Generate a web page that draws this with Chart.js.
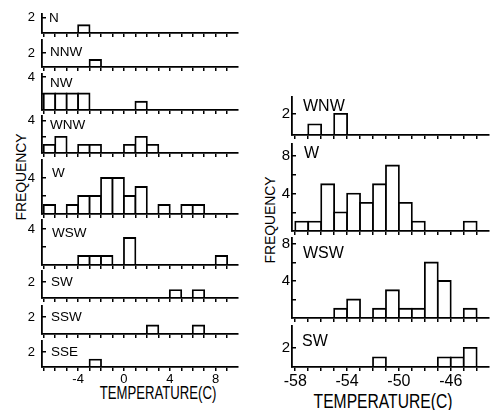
<!DOCTYPE html>
<html><head><meta charset="utf-8">
<script src="https://cdn.jsdelivr.net/npm/chart.js@4.4.1/dist/chart.umd.min.js"></script>
<style>
html,body{margin:0;padding:0;background:#fff;}
body{width:496px;height:410px;position:relative;overflow:hidden;font-family:"Liberation Sans",Arial,Helvetica,sans-serif;color:#000;}
canvas{position:absolute;}
.t{position:absolute;white-space:nowrap;line-height:1;transform-origin:50% 50%;}
</style></head><body>
<div class="t" style="left:158px;top:393px;font-size:18px;transform:translate(-50%,-50%) scaleX(0.73);">TEMPERATURE(C)</div>
<div class="t" style="left:383px;top:400px;font-size:21px;transform:translate(-50%,-50%) scaleX(0.745);">TEMPERATURE(C)</div>
<div class="t" style="left:19.5px;top:176.5px;font-size:15px;transform:translate(-50%,-50%) rotate(-90deg) scaleX(0.925);">FREQUENCY</div>
<div class="t" style="left:269px;top:220px;font-size:15px;transform:translate(-50%,-50%) rotate(-90deg) scaleX(0.925);">FREQUENCY</div>
<script>
// ---------- data ----------
const leftBins = [-7,-6,-5,-4,-3,-2,-1,0,1,2,3,4,5,6,7,8,9];
const leftNames = ['N','NNW','NW','WNW','W','WSW','SW','SSW','SSE'];
const leftN   = [0,0,0,1,0,0,0,0,0,0,0,0,0,0,0,0,0];
const leftNNW = [0,0,0,0,1,0,0,0,0,0,0,0,0,0,0,0,0];
const leftNW  = [2,2,2,2,0,0,0,0,1,0,0,0,0,0,0,0,0];
const leftWNW = [1,2,0,1,1,0,0,1,2,1,0,0,0,0,0,0,0];
const leftW   = [1,0,1,2,2,4,4,2,3,0,1,0,1,1,0,0,0];
const leftWSW = [0,0,0,1,1,1,0,3,0,0,0,0,0,0,0,1,0];
const leftSW  = [0,0,0,0,0,0,0,0,0,0,0,1,0,1,0,0,0];
const leftSSW = [0,0,0,0,0,0,0,0,0,1,0,0,0,1,0,0,0];
const leftSSE = [0,0,0,0,1,0,0,0,0,0,0,0,0,0,0,0,0];
const leftXTickLabels = [-4,0,4,8];
const leftYTickLabels = [[2],[2],[4],[4],[4],[4],[2],[2],[2]];

const rightBins = [-58,-57,-56,-55,-54,-53,-52,-51,-50,-49,-48,-47,-46,-45];
const rightNames = ['WNW','W','WSW','SW'];
const rightWNW = [0,1,0,2,0,0,0,0,0,0,0,0,0,0];
const rightW   = [1,1,5,2,4,3,5,7,3,1,0,0,0,1];
const rightWSW = [0,0,0,1,2,0,1,3,1,1,6,4,0,1];
const rightSW  = [0,0,0,0,0,0,1,0,0,0,0,1,1,2];
const rightXTickLabels = [-58,-54,-50,-46];
const rightYTickLabels = [[2],[4,8],[4,8],[2]];

// ---------- layout (positions / sizes only) ----------
const leftPanel = {
  L:42, R:238, min:-7.15, max:9.95, xFont:13, yFont:13, labelFont:13.5, yPad:11,
  bins:leftBins, names:leftNames,
  series:[leftN,leftNNW,leftNW,leftWNW,leftW,leftWSW,leftSW,leftSSW,leftSSE],
  xLabels:leftXTickLabels, yLabels:leftYTickLabels,
  yTicks:[[2],[2],[2,4],[2,4],[2,4],[2,4],[2],[2],[2]],
  layout:[
    {T:14,B:33,ymax:2.45,dx:7,dy:4},
    {T:40,B:67,ymax:3.85,dx:8,dy:12.7},
    {T:74,B:110,ymax:4.36,dx:8,dy:9},
    {T:116,B:153,ymax:4.6,dx:8,dy:9},
    {T:160,B:214,ymax:6,dx:10,dy:13},
    {T:220,B:265,ymax:5,dx:10,dy:13},
    {T:271,B:298,ymax:3.4,dx:9,dy:11},
    {T:306,B:334,ymax:3.3,dx:9,dy:11},
    {T:341,B:367,ymax:3.5,dx:9,dy:11}
  ]
};
const rightPanel = {
  L:292, R:489, min:-58.25, max:-43.05, xFont:16, yFont:15, labelFont:16, yPad:6,
  bins:rightBins, names:rightNames,
  series:[rightWNW,rightW,rightWSW,rightSW],
  xLabels:rightXTickLabels, yLabels:rightYTickLabels,
  yTicks:[[2],[2,4,6,8],[2,4,6,8],[2]],
  layout:[
    {T:97,B:135,ymax:3.6,dx:11,dy:10},
    {T:144,B:231,ymax:9.3,dx:12,dy:10},
    {T:238,B:318,ymax:8.65,dx:11,dy:16},
    {T:326,B:367,ymax:4.3,dx:10,dy:16}
  ]
};

Chart.defaults.font.family = '"Liberation Sans", Arial, Helvetica, sans-serif';
Chart.defaults.color = '#000';

const subLabel = {
  id:'subLabel',
  afterDraw(chart, args, opts) {
    const {ctx, chartArea} = chart;
    ctx.save();
    ctx.font = opts.size + 'px "Liberation Sans", Arial, sans-serif';
    ctx.fillStyle = '#000';
    ctx.textBaseline = 'middle';
    ctx.textAlign = 'left';
    ctx.fillText(opts.text, chartArea.left + opts.dx, chartArea.top + opts.dy);
    ctx.restore();
  }
};

function build(panel, i) {
  const lay = panel.layout[i];
  const isBottom = i === panel.names.length - 1;
  const yW = 30, padTop = 12, padR = 4, xH = isBottom ? 26 : 12;
  const w = yW + (panel.R - panel.L) + padR;
  const h = padTop + (lay.B - lay.T) + xH;
  const cv = document.createElement('canvas');
  cv.width = w; cv.height = h;
  cv.style.left = (panel.L - yW) + 'px';
  cv.style.top = (lay.T - padTop) + 'px';
  cv.style.width = w + 'px'; cv.style.height = h + 'px';
  document.body.appendChild(cv);
  const counts = panel.series[i];
  new Chart(cv, {
    type:'bar',
    data:{datasets:[{
      data: panel.bins.map((b,k)=>({x:b+0.5, y:counts[k] || null})),
      backgroundColor:'#fff', borderColor:'#000', borderWidth:1.8,
      borderSkipped:'bottom', inflateAmount:0.9,
      barPercentage:1, categoryPercentage:1
    }]},
    options:{
      responsive:false, animation:false, devicePixelRatio:1,
      layout:{padding:{top:padTop,right:padR,left:0,bottom:0}},
      plugins:{legend:{display:false}, tooltip:{enabled:false},
        subLabel:{text:panel.names[i], dx:lay.dx, dy:lay.dy, size:panel.labelFont}},
      scales:{
        x:{type:'linear', min:panel.min, max:panel.max, offset:false,
          grid:{drawOnChartArea:false, drawTicks:true, tickLength:4, color:'#000', lineWidth:1.5, offset:false},
          border:{display:true, color:'#000', width:1.8, z:1},
          ticks:{stepSize:1, includeBounds:false, autoSkip:false, maxRotation:0, minRotation:0, padding:1,
            font:{size:panel.xFont}, color:'#000',
            callback:(v)=> (isBottom && panel.xLabels.includes(Math.round(v)) && Math.abs(v-Math.round(v))<1e-6) ? String(Math.round(v)) : ''},
          afterFit:(s)=>{ s.height = xH; s.paddingLeft = 0; s.paddingRight = 0; s.paddingTop = 0; s.paddingBottom = 0; }
        },
        y:{type:'linear', min:0, max:lay.ymax,
          grid:{drawOnChartArea:false, drawTicks:true, tickLength:-4, color:'#000', lineWidth:1.5},
          border:{display:true, color:'#000', width:1.8, z:1},
          afterBuildTicks:(s)=>{ s.ticks = panel.yTicks[i].map(v=>({value:v})); },
          ticks:{font:{size:panel.yFont}, color:'#000', padding:panel.yPad,
            callback:(v)=> panel.yLabels[i].includes(v) ? String(v) : ''},
          afterFit:(s)=>{ s.width = yW; s.paddingTop = 0; s.paddingBottom = 0; s.paddingLeft = 0; s.paddingRight = 0; }
        }
      }
    },
    plugins:[subLabel]
  });
}

leftPanel.names.forEach((_,i)=>build(leftPanel,i));
rightPanel.names.forEach((_,i)=>build(rightPanel,i));
</script>
</body></html>
